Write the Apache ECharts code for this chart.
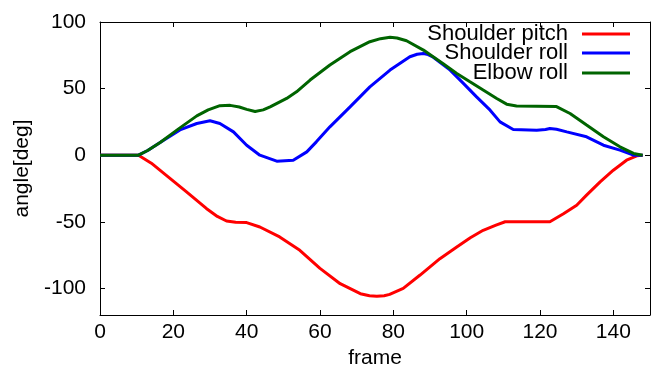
<!DOCTYPE html>
<html>
<head>
<meta charset="utf-8">
<script src="https://cdn.jsdelivr.net/npm/echarts@6/dist/echarts.min.js"></script>
<style>html,body{margin:0;padding:0;background:#fff}#c{width:654px;height:369px}</style>
</head>
<body>
<div id="c"></div>
<script>
const seriesNames = ['Shoulder pitch', 'Shoulder roll', 'Elbow roll'];
const seriesColors = ['#ff0000', '#0000ff', '#006400'];
const xTicks = [0, 20, 40, 60, 80, 100, 120, 140];
const yTicks = [-100, -50, 0, 50, 100];

const pitchFrames = [0,10.5,14,18,23.6,29,32,34.5,37,40,43.6,49,54.5,60,65.5,71,73.5,75.5,77.5,79,82.7,87.3,92.7,97.3,101,104.5,108,110.5,122.7,126.4,130,132.7,136.4,140,143.6,146.4,148];
const pitchValues = [0,0,-6,-15,-27.6,-40,-46,-49.4,-50.3,-50.6,-53.9,-61.4,-71.4,-85,-96.5,-104,-105.5,-106,-105.5,-104.5,-100,-90,-77.7,-69,-62,-56.4,-52.5,-50,-50,-44,-37.6,-30,-20,-11.3,-3.8,-0.5,0];

const rollFrames = [0,10.5,13,16.4,21.8,26.4,30,32.7,36.4,40,43.6,48.2,52.7,56.4,59,62.7,68.2,73.6,79.1,84.5,86.5,88.2,89.5,90.9,95.5,99.1,102.7,106.4,109.1,112.7,119.1,121.5,122.7,124.5,127.3,132.7,137.3,141.8,145.5,148];
const rollValues = [0,0,3.5,9.5,19,23.8,25.8,23.8,17.5,7.5,0,-4.5,-3.8,2.5,10,21.3,36.3,51.3,63.9,73.9,75.8,76.4,75.5,73.5,63.9,53.9,43.8,33.8,25,19.3,18.8,19.3,20,19.5,17.5,13.8,7.5,3.8,0,0];

const elbowFrames = [0,10.5,13,16.4,21.8,26.4,29.5,32.7,35.5,38,40,42.3,44.5,46.4,50.9,53.6,57.3,62.7,68.2,73.6,76.5,79.1,81,83.6,88.2,93.6,97.3,100.9,104.5,108.2,110.9,113.6,124.5,128.2,132.7,137.3,141.8,145.5,148];
const elbowValues = [0,0,3.5,9.5,20.5,29.5,34,37.2,37.4,36.2,34.4,32.8,34,36.3,42.6,47.6,56.4,67.7,77.7,85.2,87.5,88.5,88,85.9,78.9,68.7,61.4,55.1,48.9,42.6,38.3,37,36.5,31.3,22.6,13.8,6.3,1.3,0];

const zip = (a, b) => a.map((x, i) => [x, b[i]]);
const allData = [zip(pitchFrames, pitchValues), zip(rollFrames, rollValues), zip(elbowFrames, elbowValues)];

const FONT = 'Liberation Sans, Arial, sans-serif';
const black = '#000';

const chart = echarts.init(document.getElementById('c'), null, {renderer: 'canvas'});

const legendTops = [23, 42, 62];
const legends = seriesNames.map((n, i) => ({
  data: [n],
  right: 24,
  top: legendTops[i],
  padding: 0,
  align: 'right',
  icon: 'rect',
  itemWidth: 48,
  itemHeight: 3,
  selectedMode: false,
  textStyle: {fontFamily: FONT, fontSize: 22, color: black, padding: [0, 9, 0, 0], lineHeight: 20}
}));

const baseX = {
  type: 'value', min: 0, max: 150, interval: 20,
  axisLine: {show: true, lineStyle: {color: black, width: 1}},
  axisTick: {show: true, inside: true, length: 5, lineStyle: {color: black}},
  splitLine: {show: false}
};
const baseY = {
  type: 'value', min: -120, max: 100, interval: 50,
  axisLine: {show: true, onZero: false, lineStyle: {color: black, width: 1}},
  axisTick: {show: true, inside: true, length: 5, lineStyle: {color: black}},
  splitLine: {show: false}
};

chart.setOption({
  animation: false,
  backgroundColor: '#fff',
  legend: legends,
  grid: {left: 100, right: 4, top: 22, bottom: 54, containLabel: false, outerBoundsMode: 'none'},
  xAxis: [
    Object.assign({}, baseX, {
      position: 'bottom',
      name: 'frame', nameLocation: 'middle', nameGap: 32,
      nameTextStyle: {fontFamily: FONT, fontSize: 21, color: black},
      axisLabel: {fontFamily: FONT, fontSize: 21, color: black, margin: 7,
        customValues: xTicks, formatter: v => String(v)},
      axisTick: {show: true, inside: true, length: 5, lineStyle: {color: black}, customValues: xTicks},
      axisLine: {show: true, onZero: false, lineStyle: {color: black, width: 1}}
    }),
    Object.assign({}, baseX, {
      position: 'top',
      axisLabel: {show: false},
      axisTick: {show: true, inside: true, length: 5, lineStyle: {color: black}, customValues: xTicks},
      axisLine: {show: true, onZero: false, lineStyle: {color: black, width: 1}}
    })
  ],
  yAxis: [
    Object.assign({}, baseY, {
      position: 'left',
      name: 'angle[deg]', nameLocation: 'middle', nameGap: 66,
      nameTextStyle: {fontFamily: FONT, fontSize: 21, color: black},
      axisLabel: {fontFamily: FONT, fontSize: 21, color: black, margin: 14,
        customValues: yTicks, formatter: v => String(v)},
      axisTick: {show: true, inside: true, length: 5, lineStyle: {color: black}, customValues: yTicks}
    }),
    Object.assign({}, baseY, {
      position: 'right',
      axisLabel: {show: false},
      axisTick: {show: true, inside: true, length: 5, lineStyle: {color: black}, customValues: yTicks}
    })
  ],
  series: seriesNames.map((n, i) => ({
    name: n,
    type: 'line',
    data: allData[i],
    xAxisIndex: 0,
    yAxisIndex: 0,
    showSymbol: false,
    symbol: 'none',
    smooth: false,
    color: seriesColors[i],
    lineStyle: {color: seriesColors[i], width: 3},
    z: 2 + i
  }))
});
</script>
</body>
</html>
